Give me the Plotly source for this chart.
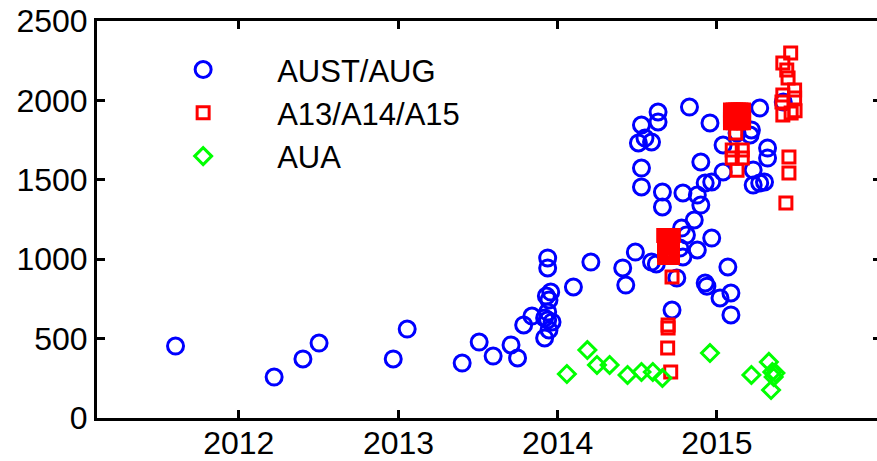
import plotly.graph_objects as go

# AUST/AUG series
aust_dates = [
    "2011-08-09", "2012-03-22", "2012-05-27", "2012-07-03", "2012-12-20", "2013-01-21",
    "2013-05-27", "2013-07-05", "2013-08-06", "2013-09-16", "2013-10-01", "2013-10-15",
    "2013-11-03", "2013-12-02", "2013-12-09", "2013-12-09", "2013-12-06", "2013-12-16",
    "2013-12-12", "2013-12-09", "2013-12-19", "2013-12-02", "2013-12-12", "2013-12-09",
    "2014-02-06", "2014-03-18", "2014-05-30", "2014-06-06", "2014-06-28", "2014-08-04",
    "2014-08-15", "2014-07-12", "2014-08-19", "2014-08-19", "2014-07-05", "2014-07-20",
    "2014-08-04", "2014-07-12", "2014-07-12", "2014-08-29", "2014-08-29", "2014-10-15",
    "2014-10-30", "2014-12-16", "2014-11-25", "2014-11-17", "2014-11-25", "2014-11-10",
    "2014-12-05", "2014-12-20", "2015-01-15", "2015-01-15", "2014-10-12", "2014-10-23",
    "2014-10-08", "2014-10-15", "2014-11-17", "2014-12-20", "2014-10-01", "2014-09-20",
    "2014-12-05", "2014-12-09", "2015-01-26", "2015-02-02", "2015-01-08", "2015-02-02",
    "2015-04-09", "2015-03-21", "2015-03-18", "2015-04-27", "2015-04-27", "2015-03-25",
    "2015-03-25", "2015-04-20", "2015-04-09", "2015-06-02", "2015-02-16",
]
aust_values = [
    453, 258, 372, 472, 372, 560,
    346, 478, 390, 460, 378, 586,
    642, 504, 1008, 945, 768, 793,
    743, 617, 605, 630, 554, 667,
    825, 982, 945, 837, 1045, 982,
    970, 1845, 1927, 1864, 1732, 1763,
    1738, 1574, 1455, 1423, 1329, 1417,
    1958, 1858, 1612, 1404, 1341, 1247,
    1480, 1486, 1549, 1719, 1196, 1152,
    1070, 1014, 1058, 1133, 882, 680,
    850, 830, 951, 787, 756, 649,
    1952, 1814, 1782, 1700, 1637, 1562,
    1467, 1486, 1480, 1990, 1795,
]

# A13/A14/A15 series
a13_dates = [
    # dense group, autumn 2014
    "2014-09-03", "2014-09-09", "2014-09-15", "2014-09-21",
    "2014-09-03", "2014-09-09", "2014-09-15", "2014-09-21",
    "2014-09-03", "2014-09-09", "2014-09-15", "2014-09-21",
    "2014-09-03", "2014-09-09", "2014-09-15", "2014-09-21",
    "2014-09-03", "2014-09-09", "2014-09-15", "2014-09-21",
    "2014-09-03", "2014-09-09", "2014-09-15", "2014-09-21",
    "2014-09-03", "2014-09-09", "2014-09-15", "2014-09-21",
    "2014-09-01", "2014-09-07", "2014-09-17", "2014-09-23",
    "2014-09-20", "2014-09-11", "2014-09-11", "2014-09-10", "2014-09-17",
    # dense group, early 2015
    "2015-02-01", "2015-02-07", "2015-02-13", "2015-02-19", "2015-02-25", "2015-03-03",
    "2015-02-01", "2015-02-07", "2015-02-13", "2015-02-19", "2015-02-25", "2015-03-03",
    "2015-02-01", "2015-02-07", "2015-02-13", "2015-02-19", "2015-02-25", "2015-03-03",
    "2015-02-01", "2015-02-07", "2015-02-13", "2015-02-19", "2015-02-25", "2015-03-03",
    "2015-02-01", "2015-02-07", "2015-02-13", "2015-02-19", "2015-02-25", "2015-03-03",
    "2015-02-13", "2015-02-16", "2015-02-05", "2015-02-28", "2015-02-05", "2015-02-28",
    # mid 2015
    "2015-06-19", "2015-06-01", "2015-06-10", "2015-06-13", "2015-06-28", "2015-06-01",
    "2015-05-30", "2015-06-28", "2015-06-20", "2015-06-01", "2015-06-29",
    "2015-06-15", "2015-06-15", "2015-06-08",
]
a13_values = [
    1010, 1010, 1010, 1010,
    1030, 1030, 1030, 1030,
    1050, 1050, 1050, 1050,
    1070, 1070, 1070, 1070,
    1090, 1090, 1090, 1090,
    1110, 1110, 1110, 1110,
    1130, 1130, 1130, 1130,
    1150, 1150, 1150, 1150,
    888, 567, 586, 441, 290,
    1860, 1860, 1860, 1860, 1860, 1860,
    1880, 1880, 1880, 1880, 1880, 1880,
    1900, 1900, 1900, 1900, 1900, 1900,
    1920, 1920, 1920, 1920, 1920, 1920,
    1940, 1940, 1940, 1940, 1940, 1940,
    1795, 1560, 1688, 1688, 1637, 1637,
    2298, 2235, 2191, 2141, 2065, 2034,
    1990, 2015, 1920, 1908, 1935,
    1644, 1543, 1354,
]

# AUA series
aua_dates = [
    "2014-01-22", "2014-03-10", "2014-04-01", "2014-04-30", "2014-06-10", "2014-07-12",
    "2014-08-07", "2014-08-29", "2014-12-16", "2015-03-21", "2015-04-30", "2015-05-08",
    "2015-05-11", "2015-05-05", "2015-05-15",
]
aua_values = [
    277, 428, 334, 334, 271, 290,
    290, 252, 409, 271, 353, 290,
    258, 176, 283,
]

year_ticks = ["2012-01-01", "2013-01-01", "2014-01-01", "2015-01-01"]
year_labels = ["2012", "2013", "2014", "2015"]
y_ticks = [0, 500, 1000, 1500, 2000, 2500]

FONT = "Liberation Sans, Arial, sans-serif"

fig = go.Figure()
fig.add_trace(go.Scatter(
    x=aust_dates, y=aust_values, mode="markers", name="AUST/AUG",
    marker=dict(symbol="circle-open", size=16, color="#0000ff",
                line=dict(width=3, color="#0000ff")),
))
fig.add_trace(go.Scatter(
    x=a13_dates, y=a13_values, mode="markers", name="A13/A14/A15",
    marker=dict(symbol="square-open", size=12, color="#ff0000",
                line=dict(width=3, color="#ff0000")),
))
fig.add_trace(go.Scatter(
    x=aua_dates, y=aua_values, mode="markers", name="AUA",
    marker=dict(symbol="diamond-open", size=13, color="#00ff00",
                line=dict(width=3, color="#00ff00")),
))

axis_style = dict(
    showline=True, linewidth=3, linecolor="black",
    ticks="inside", ticklen=8, tickwidth=3, tickcolor="black",
    mirror="ticks", showgrid=False, zeroline=False, automargin=False,
    tickfont=dict(family=FONT, size=32, color="black"),
)

fig.update_layout(
    width=882, height=461,
    margin=dict(l=97, r=1, t=21, b=43),
    paper_bgcolor="white", plot_bgcolor="white",
    font=dict(family=FONT, size=31, color="black"),
    xaxis=dict(type="date", range=["2011-02-10", "2016-01-12"],
               tickvals=year_ticks, ticktext=year_labels,
               ticklabelstandoff=-5, **axis_style),
    yaxis=dict(range=[0, 2500], tickvals=y_ticks, **axis_style),
    legend=dict(x=0.041, y=0.945, xanchor="left", yanchor="top",
                bgcolor="rgba(0,0,0,0)", itemwidth=138,
                font=dict(family=FONT, size=31, color="black")),
    showlegend=True,
)

fig.write_html(
    "out.html",
    post_script="document.documentElement.style.overflow='hidden';document.body.style.overflow='hidden';",
)
